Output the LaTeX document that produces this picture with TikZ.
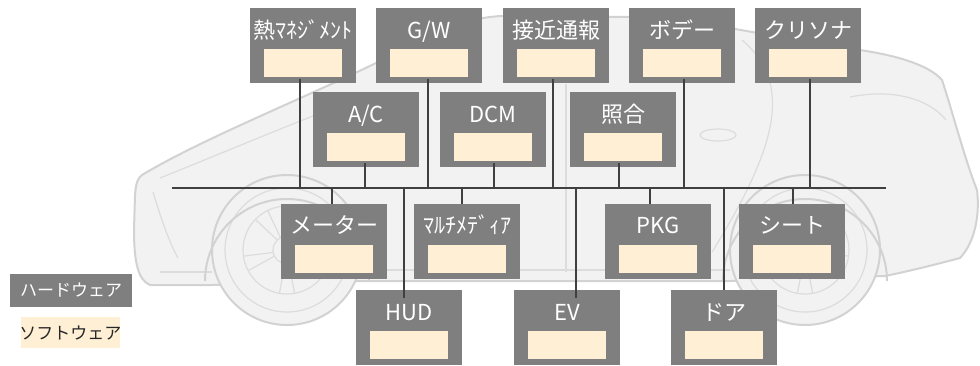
\documentclass[tikz,border=0pt]{standalone}
\usepackage{fontspec}
\newfontfamily\jpfont{Noto Sans CJK JP}
\usetikzlibrary{calc}

\definecolor{ecugray}{HTML}{7F7F7F}
\definecolor{swcream}{HTML}{FFEFD5}
\definecolor{wirecol}{HTML}{404040}
\definecolor{carfill}{HTML}{F2F2F2}
\definecolor{carline}{HTML}{D2D2D2}
\definecolor{cardetail}{HTML}{DCDCDC}
\definecolor{legendtext}{HTML}{262626}

\tikzset{
  hwbox/.style={fill=ecugray, draw=none, minimum width=106pt, minimum height=75pt,
                inner sep=0pt, outer sep=0pt},
  swbox/.style={fill=swcream, draw=none, minimum width=78pt, minimum height=28pt,
                inner sep=0pt, outer sep=0pt},
  ecutext/.style={text=white, font=\jpfont\fontsize{22}{26}\selectfont,
                  inner sep=0pt, anchor=base},
  wire/.style={draw=wirecol, line width=2pt},
  busline/.style={draw=wirecol, line width=2.5pt},
  carbody/.style={fill=carfill, draw=carline, line width=2pt, line join=round},
  cardet/.style={draw=cardetail, line width=1.2pt},
  legendtxt/.style={font=\jpfont\fontsize{17}{20}\selectfont, inner sep=0pt}
}

% one ECU: grey hardware box, cream software slot, name on top
\newcommand\ecubox[4]{%
  \node[hwbox] (#1) at (#2,#3) {};
  \node[swbox] (#1-sw) at ($(#1.south)+(0,-20)$) {};
  \node[ecutext] (#1-lbl) at ($(#1.north)+(0,30)$) {#4};
}

\begin{document}
\begin{tikzpicture}[x=1pt, y=-1pt]
\useasboundingbox (0,0) rectangle (980,365);

% ---- car silhouette in the background ----
\path[carbody]
  (150,285) .. controls (138,280) and (134,262) .. (134,230)
  -- (135,195) .. controls (136,182) and (138,178) .. (142,175)
  .. controls (200,140) and (300,100) .. (376,63)
  .. controls (420,38) and (450,20) .. (500,16)
  -- (640,17)
  .. controls (700,20) and (760,35) .. (860,50)
  .. controls (900,56) and (930,66) .. (942,80)
  .. controls (952,110) and (965,160) .. (977,190)
  .. controls (980,215) and (975,242) .. (960,258)
  .. controls (930,266) and (905,272) .. (885,276)
  -- (730,281) -- (365,281) -- (212,285) -- cycle;

% body details
\draw[cardet] (153,192) .. controls (160,215) and (168,240) .. (178,258);
\draw[cardet] (160,178) .. controls (230,150) and (300,120) .. (360,98);
\draw[cardet] (566,84) -- (566,272);
\draw[cardet] (742,40) .. controls (795,85) and (775,150) .. (712,252);
\draw[cardet] (718,135) ellipse [x radius=18, y radius=6];
\draw[cardet] (850,97) .. controls (895,88) and (930,100) .. (946,120);
\draw[cardet] (160,272) -- (212,272);
\draw[cardet] (365,270) -- (730,270);

% wheels
\foreach \wx/\wn in {287/rear, 805/front}{
  \coordinate (wheel-\wn) at (\wx,250);
  \draw[carbody] (wheel-\wn) circle [radius=75];
  \draw[cardet] (wheel-\wn) circle [radius=62];
  \draw[cardet] (wheel-\wn) circle [radius=44];
  \draw[cardet] (wheel-\wn) circle [radius=14];
  \foreach \a in {18,90,162,234,306}{
    \draw[cardet] ($(wheel-\wn)+(\a-8:14)$) -- ($(wheel-\wn)+(\a-10:44)$);
    \draw[cardet] ($(wheel-\wn)+(\a+8:14)$) -- ($(wheel-\wn)+(\a+10:44)$);
  }
}
% wheel arches (y axis points down, so the upper half runs 180..360)
\draw[carline, line width=2pt] (205,281) arc[start angle=180, end angle=360, radius=82];
\draw[carline, line width=2pt] (723,281) arc[start angle=180, end angle=360, radius=82];

% ---- ECU boxes ----
\ecubox{thermo}{303}{45.5}{熱ﾏﾈｼﾞﾒﾝﾄ}
\ecubox{gw}{429}{45.5}{G/W}
\ecubox{approach}{556}{45.5}{接近通報}
\ecubox{body}{682}{45.5}{ボデー}
\ecubox{sonar}{808}{45.5}{クリソナ}

\ecubox{ac}{366}{129.5}{A/C}
\ecubox{dcm}{493}{129.5}{DCM}
\ecubox{verify}{623}{129.5}{照合}

\ecubox{meter}{334}{241}{メーター}
\ecubox{multi}{467}{241}{ﾏﾙﾁﾒﾃﾞｨｱ}
\ecubox{pkg}{658}{241}{PKG}
\ecubox{seat}{792}{241}{シート}

\ecubox{hud}{409}{327.5}{HUD}
\ecubox{ev}{567}{327.5}{EV}
\ecubox{door}{724}{327.5}{ドア}

% ---- in-vehicle bus ----
\coordinate (busW) at (172,188);
\coordinate (busE) at (886,188);
\draw[busline] (busW) -- (busE);

% upper ECUs drop onto the bus
\foreach \n/\dx in {thermo/-3.5, gw/-1, approach/-3, body/2, sonar/2, ac/-1, dcm/1, verify/-4}{
  \draw[wire] ($(\n.south)+(\dx,-4)$) -- ($(\n.south |- busW)+(\dx,0)$);
}
% lower ECUs hang from the bus
\foreach \n/\dx in {meter/-2, multi/-5, pkg/-8, seat/1, door/0}{
  \draw[wire] ($(\n.north |- busW)+(\dx,0)$) -- ($(\n.north)+(\dx,0)$);
}
\foreach \n/\dx in {hud/-5, ev/9}{
  \draw[wire] ($(\n.north |- busW)+(\dx,0)$) -- ($(\n.north)+(\dx,8)$);
}

% ---- legend ----
\node[fill=ecugray, minimum width=122pt, minimum height=33pt, inner sep=0pt]
  (leg-hw) at (71,290.5) {};
\node[legendtxt, text=white] (leg-hw-txt) at (leg-hw) {ハードウェア};
\node[fill=swcream, minimum width=99pt, minimum height=31pt, inner sep=0pt]
  (leg-sw) at (70.5,332.5) {};
\node[legendtxt, text=legendtext] (leg-sw-txt) at (leg-sw) {ソフトウェア};

\end{tikzpicture}
\end{document}
